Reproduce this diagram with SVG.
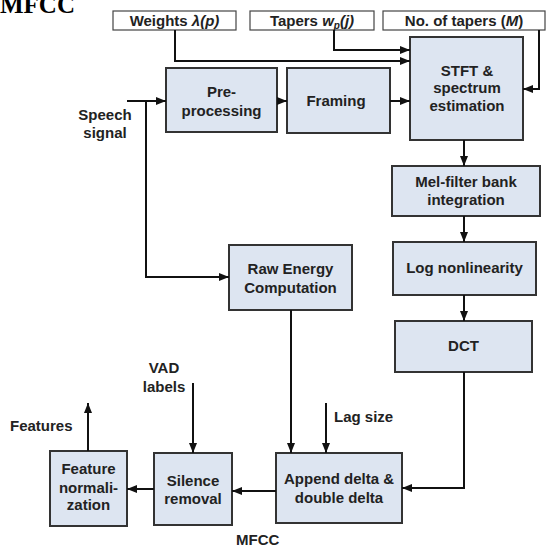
<svg xmlns="http://www.w3.org/2000/svg" width="548" height="547" viewBox="0 0 548 547">
<defs>
<marker id="ah" markerWidth="10" markerHeight="8" refX="10" refY="4" orient="auto" markerUnits="userSpaceOnUse">
<path d="M0,0 L10,4 L0,8 Z" fill="#111"/>
</marker>
<style>
.box{fill:#dde5f1;stroke:#333;stroke-width:2}
.lbl{fill:#fff;stroke:#444;stroke-width:1.2}
.t{font-family:"Liberation Sans",Arial,sans-serif;font-weight:bold;font-size:15px;fill:#222;text-anchor:middle}
.tl{font-family:"Liberation Sans",Arial,sans-serif;font-weight:bold;font-size:15px;fill:#222}
.c{fill:none;stroke:#111;stroke-width:2;marker-end:url(#ah)}
.n{fill:none;stroke:#111;stroke-width:2}
</style>
</defs>
<rect width="548" height="547" fill="#fff"/>
<text x="0" y="13" font-family="Liberation Serif,serif" font-weight="bold" font-size="25" fill="#000">MFCC</text>

<g id="weights"><rect class="lbl" x="113" y="11" width="123" height="19"/><text class="t" x="174.5" y="26">Weights <tspan font-style="italic">λ(p)</tspan></text></g>
<g id="tapers"><rect class="lbl" x="250" y="11" width="124" height="19"/><text class="t" x="312" y="26">Tapers <tspan font-style="italic">w</tspan><tspan font-style="italic" font-size="10" dy="3">p</tspan><tspan font-style="italic" dy="-3">(j)</tspan></text></g>
<g id="ntapers"><rect class="lbl" x="383" y="11" width="162" height="19"/><text class="t" x="464" y="26">No. of tapers (<tspan font-style="italic">M</tspan>)</text></g>

<g id="preproc"><rect class="box" x="166" y="68" width="111" height="64"/><text class="t" x="221.5" y="97">Pre-</text><text class="t" x="221.5" y="116">processing</text></g>
<g id="framing"><rect class="box" x="287" y="68" width="103" height="65"/><text class="t" x="336" y="106">Framing</text></g>
<g id="stft"><rect class="box" x="410" y="37" width="113" height="103"/><text class="t" x="467" y="76">STFT &amp;</text><text class="t" x="467" y="93">spectrum</text><text class="t" x="467" y="111">estimation</text></g>
<g id="mel"><rect class="box" x="392" y="166" width="148" height="50"/><text class="t" x="466" y="187">Mel-filter bank</text><text class="t" x="466" y="205">integration</text></g>
<g id="log"><rect class="box" x="393" y="242" width="143" height="53"/><text class="t" x="464.5" y="273">Log nonlinearity</text></g>
<g id="dct"><rect class="box" x="395" y="321" width="137" height="51"/><text class="t" x="463.5" y="351">DCT</text></g>
<g id="raw"><rect class="box" x="229" y="245" width="123" height="65"/><text class="t" x="290.5" y="274">Raw Energy</text><text class="t" x="290.5" y="293">Computation</text></g>
<g id="append"><rect class="box" x="276" y="453" width="126" height="70"/><text class="t" x="339" y="484">Append delta &amp;</text><text class="t" x="339" y="503">double delta</text></g>
<g id="silence"><rect class="box" x="154" y="453" width="78" height="72"/><text class="t" x="193" y="486">Silence</text><text class="t" x="193" y="504">removal</text></g>
<g id="featnorm"><rect class="box" x="50" y="451" width="77" height="75"/><text class="t" x="88.5" y="474">Feature</text><text class="t" x="88.5" y="493">normali-</text><text class="t" x="88.5" y="510">zation</text></g>

<g id="labels">
<text class="t" x="105" y="120">Speech</text>
<text class="t" x="105" y="138">signal</text>
<text class="t" x="164" y="373">VAD</text>
<text class="t" x="164" y="392">labels</text>
<text class="tl" x="334" y="422">Lag size</text>
<text class="tl" x="10" y="431">Features</text>
<text class="tl" x="236" y="545" font-size="14">MFCC</text>
</g>

<g id="connectors">
<path class="c" d="M175,30 V61 H410"/>
<path class="c" d="M334,30 V50 H410"/>
<path class="c" d="M539,30 V89 H523"/>
<path class="c" d="M127,101 H166"/>
<path class="c" d="M146,101 V277 H229"/>
<path class="c" d="M277,101 H287"/>
<path class="c" d="M390,101 H410"/>
<path class="c" d="M464,140 V166"/>
<path class="c" d="M464,216 V242"/>
<path class="c" d="M464,295 V321"/>
<path class="c" d="M464,372 V488 H402"/>
<path class="c" d="M291,310 V453"/>
<path class="c" d="M326,403 V453"/>
<path class="c" d="M193,383 V453"/>
<path class="c" d="M276,491 H232"/>
<path class="c" d="M154,489 H127"/>
<path class="c" d="M88,451 V403"/>
</g>
</svg>
